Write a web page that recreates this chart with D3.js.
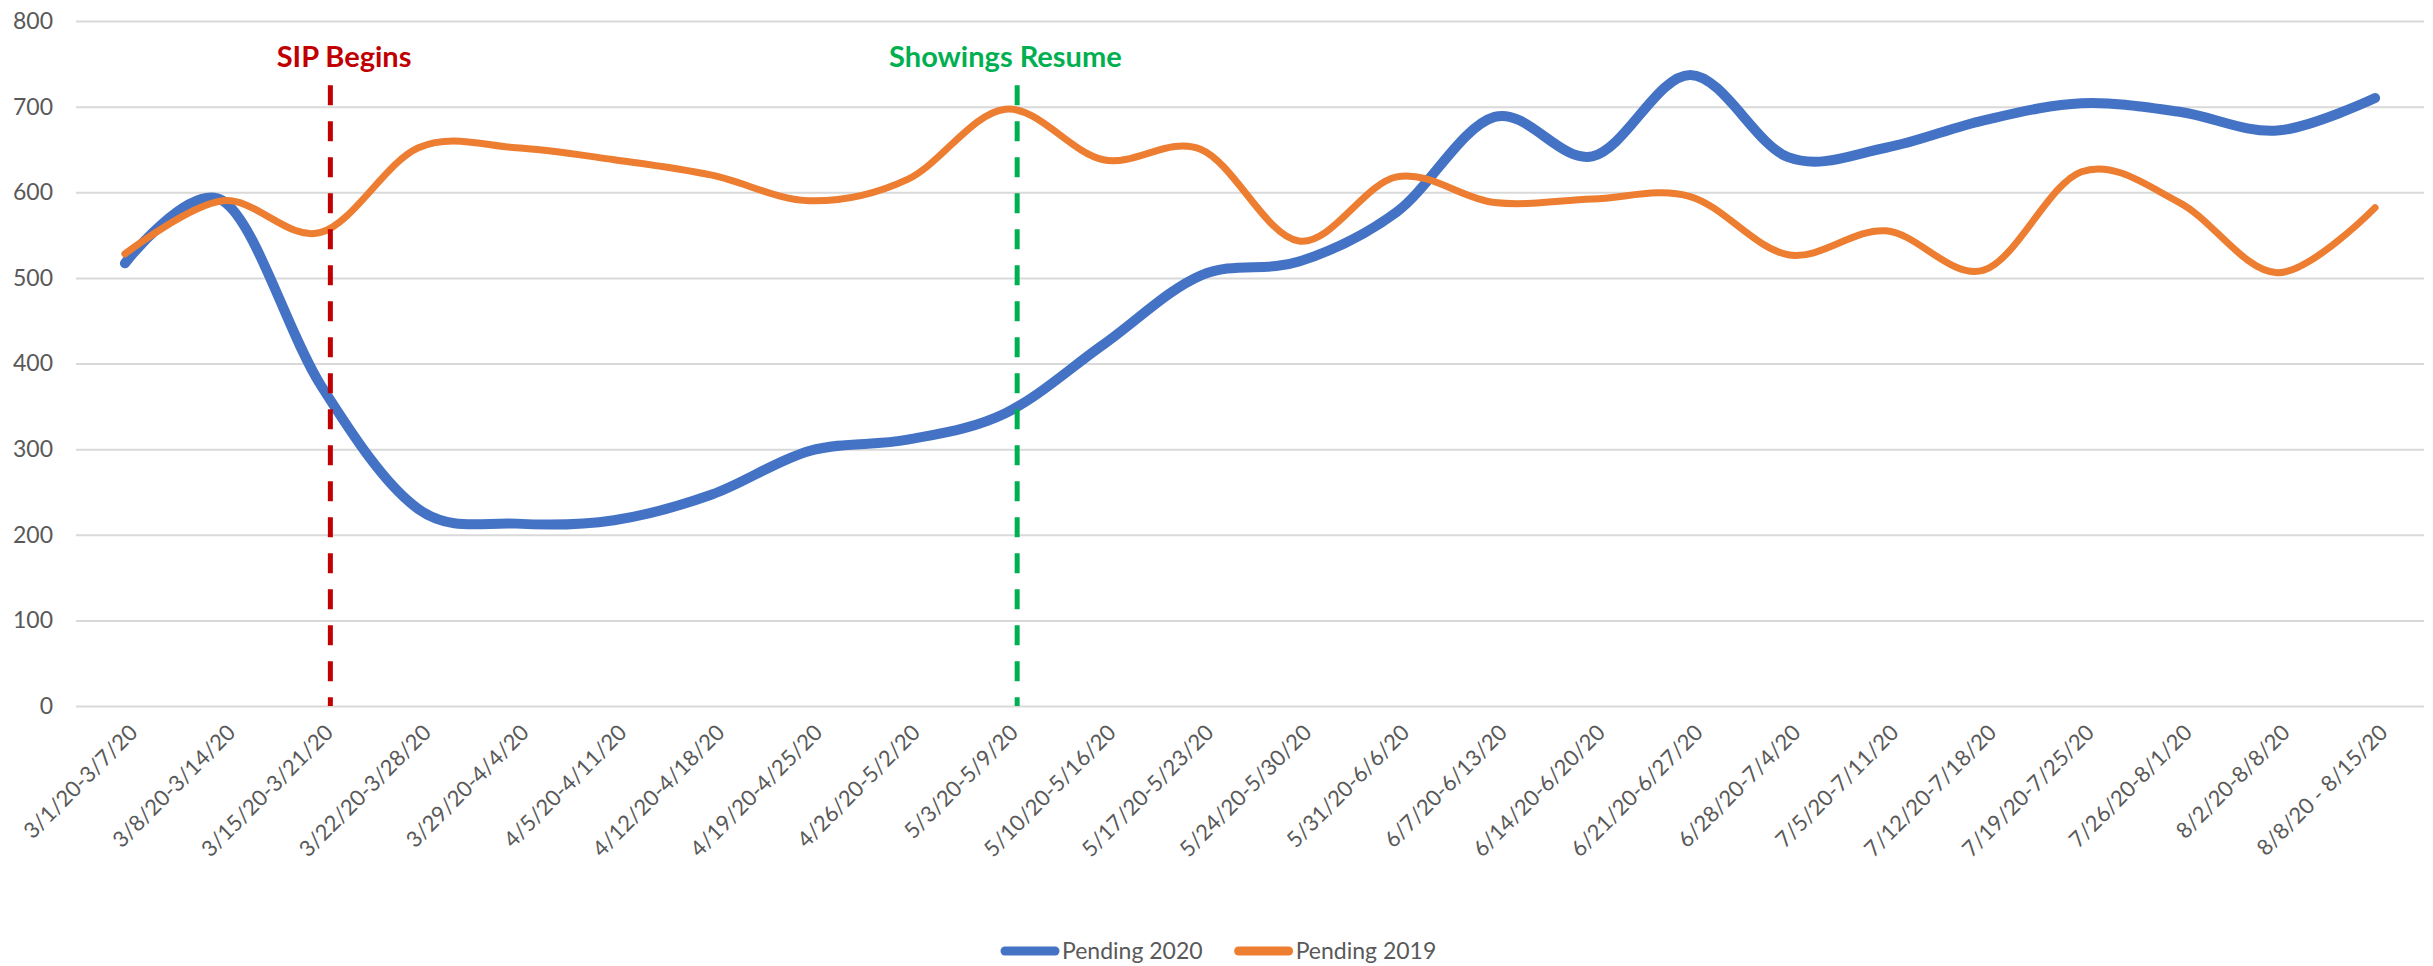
<!DOCTYPE html>
<html>
<head>
<meta charset="utf-8">
<script src="https://cdn.jsdelivr.net/npm/d3@7"></script>
<style>
  html, body { margin: 0; padding: 0; background: #ffffff; }
  svg { display: block; }
  text { font-family: Lato, "Liberation Sans", sans-serif; }
</style>
</head>
<body>
<div id="chart"></div>
<script>
// ---------------- DATA ----------------
const categories = [
  "3/1/20-3/7/20","3/8/20-3/14/20","3/15/20-3/21/20","3/22/20-3/28/20",
  "3/29/20-4/4/20","4/5/20-4/11/20","4/12/20-4/18/20","4/19/20-4/25/20",
  "4/26/20-5/2/20","5/3/20-5/9/20","5/10/20-5/16/20","5/17/20-5/23/20",
  "5/24/20-5/30/20","5/31/20-6/6/20","6/7/20-6/13/20","6/14/20-6/20/20",
  "6/21/20-6/27/20","6/28/20-7/4/20","7/5/20-7/11/20","7/12/20-7/18/20",
  "7/19/20-7/25/20","7/26/20-8/1/20","8/2/20-8/8/20","8/8/20 - 8/15/20"
];
const pending2020 = [517,590,375,230,213,217,247,298,311,342,422,503,519,577,688,642,737,641,652,684,704,694,672,710];
const pending2019 = [528,590,553,652,652,638,620,590,615,697,638,650,543,618,588,592,595,527,555,509,624,588,506,582];
const seriesNames = ["Pending 2020", "Pending 2019"];
const yTicks = [0,100,200,300,400,500,600,700,800];
// annotations: category position (index units) and top value of the marker line
const annotationLabels = ["SIP Begins", "Showings Resume"];
const annotationAt = [2.1, 9.12];
const annotationLabelAt = [2.24, 9.0];
const annotationTop = 725;

// ---------------- LAYOUT / STYLE ----------------
const W = 2433, H = 966;
const plot = { left: 76, right: 2424, top: 21, bottom: 706 };
const seriesColors = ["#4472C4", "#ED7D31"];
const seriesWidths = [10, 7];
const annotationColors = ["#C00000", "#00B050"];
const tickColor = "#595959";

const svg = d3.select("#chart").append("svg")
  .attr("width", W).attr("height", H);

const x = d3.scaleBand().domain(categories).range([plot.left, plot.right]);
const xi = d3.scaleLinear().domain([-0.5, categories.length - 0.5]).range([plot.left, plot.right]);
const y = d3.scaleLinear().domain([0, 800]).range([plot.bottom, plot.top]);
const cx = c => x(c) + x.bandwidth() / 2;

// gridlines + y axis
const yAxis = svg.append("g")
  .attr("transform", `translate(${plot.left},0)`)
  .call(d3.axisLeft(y).tickValues(yTicks).tickSize(-(plot.right - plot.left)).tickPadding(23));
yAxis.select(".domain").remove();
yAxis.selectAll(".tick line").attr("stroke", "#d9d9d9").attr("stroke-width", 2);
yAxis.selectAll(".tick text")
  .attr("fill", tickColor)
  .style("font-size", "23px");

// x axis labels
const xAxis = svg.append("g")
  .attr("transform", `translate(0,${plot.bottom})`)
  .call(d3.axisBottom(x).tickSize(0).tickPadding(0));
xAxis.select(".domain").remove();
xAxis.selectAll(".tick text")
  .attr("fill", tickColor)
  .style("font-size", "22px")
  .attr("text-anchor", "end")
  .attr("dy", 0)
  .attr("y", 0)
  .attr("transform", "translate(14,28) rotate(-45)");

// series lines
const line = d3.line()
  .x((d, i) => cx(categories[i]))
  .y(d => y(d))
  .curve(d3.curveCatmullRom.alpha(0));

[pending2020, pending2019].forEach((vals, k) => {
  svg.append("path")
    .datum(vals)
    .attr("d", line)
    .attr("fill", "none")
    .attr("stroke", seriesColors[k])
    .attr("stroke-width", seriesWidths[k])
    .attr("stroke-linecap", "round")
    .attr("stroke-linejoin", "round");
});

// annotation dashed lines + labels
annotationLabels.forEach((lab, k) => {
  svg.append("line")
    .attr("x1", xi(annotationAt[k])).attr("x2", xi(annotationAt[k]))
    .attr("y1", y(annotationTop)).attr("y2", y(0))
    .attr("stroke", annotationColors[k])
    .attr("stroke-width", 5)
    .attr("stroke-dasharray", "20,16");
  svg.append("text")
    .attr("x", xi(annotationLabelAt[k]))
    .attr("y", 67)
    .attr("text-anchor", "middle")
    .attr("fill", annotationColors[k])
    .style("font-size", "29px")
    .style("font-weight", "bold")
    .text(lab);
});

// legend
const legend = svg.append("g").attr("transform", "translate(1005,951)");
let lx = 0;
seriesNames.forEach((name, k) => {
  const g = legend.append("g").attr("transform", `translate(${lx},0)`);
  g.append("line")
    .attr("x1", 0).attr("x2", 50).attr("y1", 0).attr("y2", 0)
    .attr("stroke", seriesColors[k]).attr("stroke-width", 9)
    .attr("stroke-linecap", "round");
  const t = g.append("text")
    .attr("x", 57).attr("y", 8)
    .attr("fill", tickColor)
    .style("font-size", "23px")
    .text(name);
  lx += 57 + t.node().getComputedTextLength() + 36;
});
</script>
</body>
</html>
